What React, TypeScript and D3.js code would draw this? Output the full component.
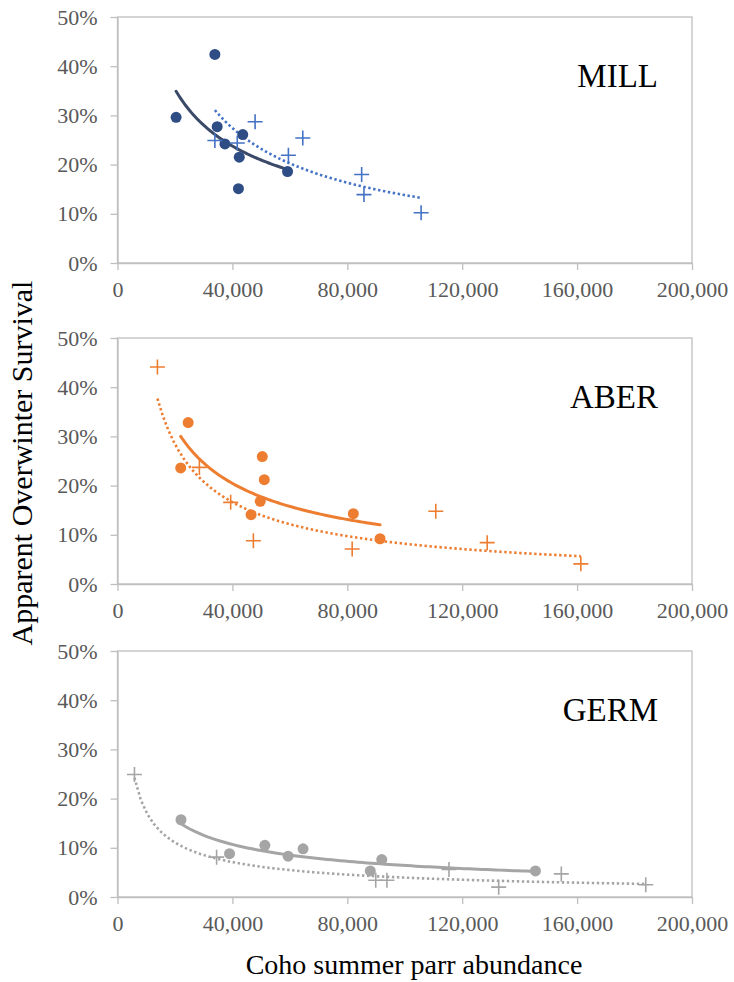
import { useEffect, useRef } from 'react';
import * as d3 from 'd3';

const WIDTH = 734;
const HEIGHT = 982;

// x ticks and y ticks shared by all three panels
const xTicks = [0, 40000, 80000, 120000, 160000, 200000];
const yTicks = [0, 0.1, 0.2, 0.3, 0.4, 0.5];
const panelNames = ['MILL', 'ABER', 'GERM'];

// MILL
const millDotX = [33900, 20400, 34700, 37400, 43600, 42400, 42100, 59200];
const millDotY = [0.424, 0.296, 0.277, 0.242, 0.261, 0.215, 0.151, 0.186];
const millCrossX = [33900, 41700, 47900, 59500, 64500, 85000, 85800, 105700];
const millCrossY = [0.249, 0.244, 0.287, 0.219, 0.254, 0.180, 0.139, 0.102];

// ABER
const aberDotX = [24600, 22000, 50400, 51100, 49700, 46500, 82100, 91400];
const aberDotY = [0.328, 0.236, 0.259, 0.212, 0.168, 0.141, 0.143, 0.092];
const aberCrossX = [13900, 28500, 39400, 47300, 81700, 110800, 128700, 161300];
const aberCrossY = [0.441, 0.237, 0.166, 0.088, 0.071, 0.148, 0.084, 0.041];

// GERM
const germDotX = [22100, 39000, 51300, 59400, 64600, 88000, 92000, 145500];
const germDotY = [0.157, 0.088, 0.105, 0.083, 0.098, 0.053, 0.076, 0.053];
const germCrossX = [5900, 34500, 89900, 93800, 115400, 132700, 154500, 183900];
const germCrossY = [0.249, 0.081, 0.034, 0.034, 0.056, 0.020, 0.047, 0.025];

const panelColors = [
  { dot: '#2E4D85', solid: '#3B4A68', cross: '#4472C4' },
  { dot: '#ED7D31', solid: '#ED7D31', cross: '#ED7D31' },
  { dot: '#A5A5A5', solid: '#A5A5A5', cross: '#A5A5A5' },
];

const panelTops = [17, 338, 651];
const plotH = 246;
const margin = { left: 117.5, right: 692 };
const serif = "'Liberation Serif', 'Times New Roman', serif";

// Excel-style power trendline: least squares on ln(x), ln(y)
const powerFit = (xs: number[], ys: number[]) => {
  const lx = xs.map(Math.log);
  const ly = ys.map(Math.log);
  const mx = d3.mean(lx) as number;
  const my = d3.mean(ly) as number;
  const b = d3.sum(lx, (v, i) => (v - mx) * (ly[i] - my)) / d3.sum(lx, v => (v - mx) ** 2);
  const a = Math.exp(my - b * mx);
  return (x: number) => a * Math.pow(x, b);
};

const App = () => {
  const svgRef = useRef<SVGSVGElement>(null);

  useEffect(() => {
    const svg = d3.select(svgRef.current);
    svg.selectAll('*').remove();

    const panels = [
      { dotX: millDotX, dotY: millDotY, crossX: millCrossX, crossY: millCrossY },
      { dotX: aberDotX, dotY: aberDotY, crossX: aberCrossX, crossY: aberCrossY },
      { dotX: germDotX, dotY: germDotY, crossX: germCrossX, crossY: germCrossY },
    ];

    const x = d3.scaleLinear().domain([0, 200000]).range([margin.left, margin.right]);

    panels.forEach((p, pi) => {
      const top = panelTops[pi];
      const y = d3.scaleLinear().domain([0, 0.5]).range([top + plotH, top]);
      const col = panelColors[pi];
      const g = svg.append('g');

      // plot frame
      g.append('rect')
        .attr('x', margin.left)
        .attr('y', top)
        .attr('width', margin.right - margin.left)
        .attr('height', plotH)
        .attr('fill', 'none')
        .attr('stroke', '#BFBFBF')
        .attr('stroke-width', 1.3);

      const yAxis = g.append('g')
        .attr('transform', `translate(${margin.left},0)`)
        .call(d3.axisLeft(y).tickValues(yTicks).tickFormat(d3.format('.0%')).tickSize(7).tickSizeOuter(0).tickPadding(13));
      const xAxis = g.append('g')
        .attr('transform', `translate(0,${top + plotH})`)
        .call(d3.axisBottom(x).tickValues(xTicks).tickFormat(d3.format(',')).tickSize(7).tickSizeOuter(0).tickPadding(11));

      [yAxis, xAxis].forEach(ax => {
        ax.select('.domain').attr('stroke', '#BFBFBF').attr('stroke-width', 1.3);
        ax.selectAll('.tick line').attr('stroke', '#BFBFBF').attr('stroke-width', 1.3);
        ax.selectAll('.tick text')
          .attr('fill', '#595959')
          .style('font-family', serif)
          .style('font-size', '22px');
      });

      // trend lines
      const line = d3.line<number>().x(d => x(d)).y(d => y(fit(d)));
      let fit = powerFit(p.crossX, p.crossY);
      const [cx0, cx1] = d3.extent(p.crossX) as [number, number];
      g.append('path')
        .attr('d', line(d3.range(0, 81).map(i => cx0 + (cx1 - cx0) * i / 80)))
        .attr('fill', 'none')
        .attr('stroke', col.cross)
        .attr('stroke-width', 2.6)
        .attr('stroke-dasharray', '2.4 2.6');

      fit = powerFit(p.dotX, p.dotY);
      const [dx0, dx1] = d3.extent(p.dotX) as [number, number];
      g.append('path')
        .attr('d', line(d3.range(0, 81).map(i => dx0 + (dx1 - dx0) * i / 80)))
        .attr('fill', 'none')
        .attr('stroke', col.solid)
        .attr('stroke-width', 3)
        .attr('stroke-linecap', 'round');

      // circle markers
      g.selectAll('circle.dot')
        .data(p.dotX.map((v, i) => [v, p.dotY[i]]))
        .join('circle')
        .attr('class', 'dot')
        .attr('cx', d => x(d[0]))
        .attr('cy', d => y(d[1]))
        .attr('r', 5.5)
        .attr('fill', col.dot);

      // cross markers
      const s = 7.5;
      g.selectAll('path.cross')
        .data(p.crossX.map((v, i) => [v, p.crossY[i]]))
        .join('path')
        .attr('class', 'cross')
        .attr('d', d => {
          const px = x(d[0]);
          const py = y(d[1]);
          return `M${px - s},${py}H${px + s}M${px},${py - s}V${py + s}`;
        })
        .attr('stroke', col.cross)
        .attr('stroke-width', 1.6)
        .attr('fill', 'none');

      g.append('text')
        .attr('x', 658)
        .attr('y', top + 70)
        .attr('text-anchor', 'end')
        .style('font-family', serif)
        .style('font-size', '33px')
        .attr('fill', '#000')
        .text(panelNames[pi]);
    });

    svg.append('text')
      .attr('transform', `translate(32,463) rotate(-90)`)
      .attr('text-anchor', 'middle')
      .style('font-family', serif)
      .style('font-size', '30px')
      .attr('fill', '#000')
      .text('Apparent Overwinter Survival');

    svg.append('text')
      .attr('x', 414)
      .attr('y', 974)
      .attr('text-anchor', 'middle')
      .style('font-family', serif)
      .style('font-size', '28px')
      .attr('fill', '#000')
      .text('Coho summer parr abundance');
  }, []);

  return (
    <svg
      ref={svgRef}
      width={WIDTH}
      height={HEIGHT}
      style={{ position: 'absolute', left: 0, top: 0, background: '#fff' }}
    />
  );
};

export default App;
